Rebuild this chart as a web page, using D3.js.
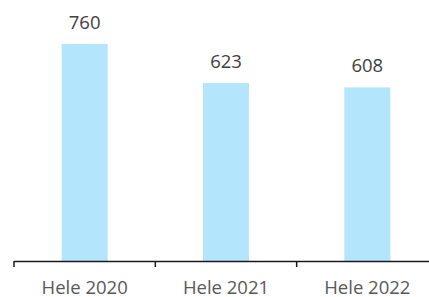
<!DOCTYPE html>
<html>
<head>
<meta charset="utf-8">
<script src="https://cdn.jsdelivr.net/npm/d3@7"></script>
<style>
  body { margin: 0; background: #fff; }
  text { font-family: "Open Sans", sans-serif; }
</style>
</head>
<body>
<svg width="429" height="297"></svg>
<script>
var categories = ["Hele 2020", "Hele 2021", "Hele 2022"];
var values = [760, 623, 608];

var svg = d3.select("svg");

var x = d3.scaleBand()
    .domain(categories)
    .range([14, 438])
    .paddingInner(0)
    .paddingOuter(0);

var y = d3.scaleLinear()
    .domain([0, 760])
    .range([261, 44]);

var barW = 46;

svg.append("g")
    .selectAll("rect")
    .data(values)
    .enter().append("rect")
    .attr("x", function(d, i) { return x(categories[i]) + x.bandwidth() / 2 - barW / 2; })
    .attr("y", function(d) { return y(d); })
    .attr("width", barW)
    .attr("height", function(d) { return y(0) - y(d); })
    .attr("fill", "#b3e5fc");

svg.append("g")
    .selectAll("text")
    .data(values)
    .enter().append("text")
    .attr("x", function(d, i) { return x(categories[i]) + x.bandwidth() / 2; })
    .attr("y", function(d) { return y(d) - 15; })
    .attr("text-anchor", "middle")
    .attr("font-size", 18.5)
    .attr("fill", "#404040")
    .text(function(d) { return d; });

// x axis: ticks on band edges
var axis = svg.append("g");
axis.append("line")
    .attr("x1", x.range()[0]).attr("x2", x.range()[1])
    .attr("y1", 261.5).attr("y2", 261.5)
    .attr("stroke", "#1a1a1a")
    .attr("stroke-width", 1.5);

axis.selectAll("line.tick")
    .data(categories)
    .enter().append("line")
    .attr("class", "tick")
    .attr("x1", function(d) { return x(d); })
    .attr("x2", function(d) { return x(d); })
    .attr("y1", 261).attr("y2", 267)
    .attr("stroke", "#1a1a1a")
    .attr("stroke-width", 1.5);

axis.selectAll("text")
    .data(categories)
    .enter().append("text")
    .attr("x", function(d) { return x(d) + x.bandwidth() / 2; })
    .attr("y", 293.5)
    .attr("text-anchor", "middle")
    .attr("font-size", 18.5)
    .attr("fill", "#595959")
    .text(function(d) { return d; });
</script>
</body>
</html>
